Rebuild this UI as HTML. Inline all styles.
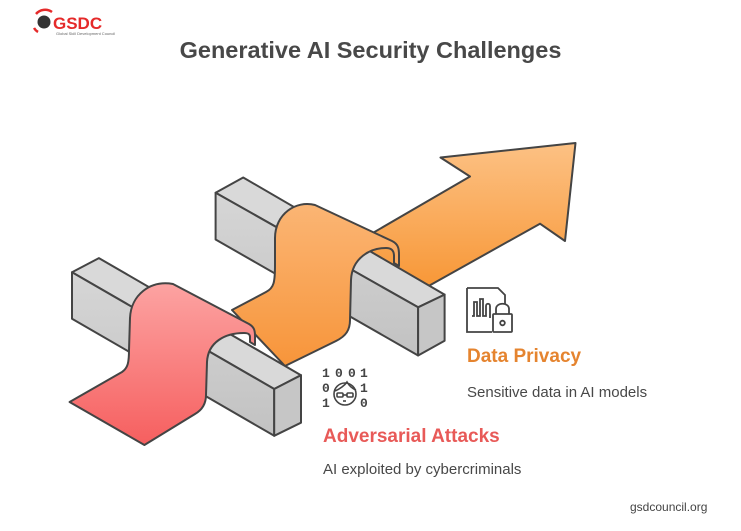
<!DOCTYPE html>
<html><head><meta charset="utf-8"><style>
html,body{margin:0;padding:0;background:#fff;}
body{width:741px;height:531px;position:relative;overflow:hidden;font-family:"Liberation Sans",sans-serif;}
.t{position:absolute;white-space:nowrap;}
</style></head><body>
<svg width="741" height="531" style="position:absolute;left:0;top:0">
<defs>
<linearGradient id="og" x1="0" y1="0" x2="0" y2="1"><stop offset="0" stop-color="#fcc184"/><stop offset="1" stop-color="#f7932f"/></linearGradient>
<linearGradient id="og2" x1="0" y1="0" x2="0" y2="1"><stop offset="0" stop-color="#fbb574"/><stop offset="1" stop-color="#f7953a"/></linearGradient>
<linearGradient id="rg" x1="0" y1="0" x2="0" y2="1"><stop offset="0" stop-color="#fca3a2"/><stop offset="1" stop-color="#f65f5f"/></linearGradient>
<linearGradient id="gs" x1="0" y1="0" x2="0" y2="1"><stop offset="0" stop-color="#d6d6d6"/><stop offset="1" stop-color="#c2c2c2"/></linearGradient>
</defs>
<g stroke="#444" stroke-width="2" stroke-linejoin="round">
<polygon fill="url(#og)" points="340,252 470,176.5 440.5,157.5 575.5,143 565,241 540,223.7 400,302"/>
<polygon fill="#d9d9d9" points="215.6,192.7 243.2,177.5 444.6,294.6 418.1,307.3"/>
<polygon fill="url(#gs)" points="215.6,192.7 418.1,307.3 418.1,355.5 215.6,239.5"/>
<polygon fill="#c6c6c6" points="418.1,307.3 444.6,294.6 444.6,340.7 418.1,355.5"/>
<path fill="url(#og2)" d="M232,310 L266,292 C274,288 275,282 275,265 L275,238 C275,214 296,200 315,205 L392,241 C398,244 399,248 399,255 L399,266 L394,263 L394,256 C394,250 391,248 386,248 C370,248 352,258 351,280 L350,320 C350,330 346,336 336,341 L285,366 Z"/>
<polygon fill="#d9d9d9" points="72,272.2 98.9,258.1 301,375.2 274.2,389"/>
<polygon fill="url(#gs)" points="72,272.2 274.2,389 274.2,435.8 72,318.7"/>
<polygon fill="#c6c6c6" points="274.2,389 301,375.2 301,422.7 274.2,435.8"/>
<path fill="url(#rg)" d="M69.6,402 L122,372 C128,368 129,362 129,350 L130,318 C131,295 150,280 173,284 L249,324 C254,327 255,330 255,336 L255,345 L250,342 L250,337 C250,334 248,333 244,333 C225,333 208,342 207,362 L206,395 C206,404 202,410 195,414 L144.4,445 Z"/>
</g>
<g fill="none" stroke="#444" stroke-width="1.8">
<path d="M467,288 L498,288 L505,295 L505,304"/>
<path d="M467,288 L467,332 L492,332"/>
<path d="M472,316 L474,316 L474,302 L477,302 L477,316 L480,316 L480,299 L483,299 L483,316 L486,316 L486,306 C486,303 490,303 490,306 L490,318"/>
<rect x="493" y="314" width="19" height="18" rx="1"/>
<path d="M496,314 L496,309 C496,302 509,302 509,309 L509,314"/>
<circle cx="502.5" cy="323" r="2.3"/>
</g>
<g font-family="Liberation Mono,monospace" font-size="13" font-weight="bold" fill="#444">
<text x="322" y="377">1</text><text x="335" y="377">0</text><text x="348" y="377">0</text><text x="360" y="377">1</text>
<text x="322" y="392">0</text><text x="360" y="392">1</text>
<text x="322" y="407">1</text><text x="360" y="407">0</text>
</g>
<g fill="none" stroke="#444" stroke-width="1.6">
<circle cx="345" cy="394" r="11"/>
<path d="M335,391 C340,389 345,385 347,382 C350,387 353,389 356,390"/>
<rect x="337" y="393" width="6" height="4" rx="1"/><rect x="347" y="393" width="6" height="4" rx="1"/>
<path d="M343,395 L347,395"/><path d="M343,401 L346,401"/>
</g>
<circle cx="44" cy="22" r="6.5" fill="#333"/>
<path d="M36,14 A12,12 0 0 1 52,12" stroke="#e52a2a" stroke-width="2.5" fill="none"/>
<path d="M34,28 A12,12 0 0 0 38,32" stroke="#e52a2a" stroke-width="2.5" fill="none"/>
<text x="53" y="29" font-family="Liberation Sans" font-weight="bold" font-size="17" fill="#e52a2a">GSDC</text>
<text x="56" y="35" font-family="Liberation Sans" font-size="4" fill="#666">Global Skill Development Council</text>
</svg>
<div class="t" style="left:0;width:741px;text-align:center;top:37px;font-size:23.5px;font-weight:bold;color:#484848">Generative AI Security Challenges</div>
<div class="t" style="left:467px;top:346px;font-size:19px;font-weight:bold;color:#e5842f">Data Privacy</div>
<div class="t" style="left:467px;top:384px;font-size:15px;color:#484848">Sensitive data in AI models</div>
<div class="t" style="left:323px;top:426px;font-size:19px;font-weight:bold;color:#e85a58">Adversarial Attacks</div>
<div class="t" style="left:323px;top:461px;font-size:15px;color:#484848">AI exploited by cybercriminals</div>
<div class="t" style="left:630px;top:500px;font-size:12px;color:#444">gsdcouncil.org</div>
</body></html>
